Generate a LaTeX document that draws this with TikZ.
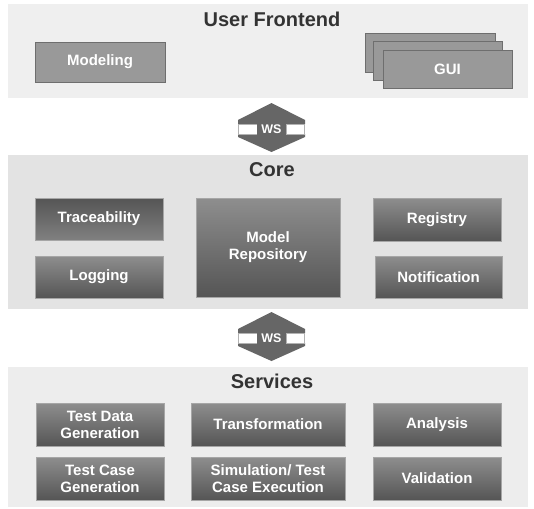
\documentclass[tikz,border=0pt]{standalone}
\usepackage{fontspec}
\setmainfont{Liberation Sans}
\usetikzlibrary{shadows}
\definecolor{panelA}{HTML}{EFEFEF}
\definecolor{panelB}{HTML}{E3E3E3}
\definecolor{panelC}{HTML}{EDEDED}
\definecolor{flatbox}{HTML}{999999}
\definecolor{flatedge}{HTML}{6E6E6E}
\definecolor{gradlight}{HTML}{8E8E8E}
\definecolor{graddark}{HTML}{555555}
\definecolor{titlegray}{HTML}{333333}
\definecolor{arrowgray}{HTML}{666666}
\begin{document}
\begin{tikzpicture}[x=1pt,y=-1pt,
  title/.style={font=\bfseries\fontsize{20}{22}\selectfont, text=titlegray},
  lbl/.style={font=\bfseries\fontsize{15}{17}\selectfont, text=white, align=center, inner sep=0pt},
  flat/.style={lbl, fill=flatbox, draw=flatedge, line width=0.6pt,
    drop shadow={shadow xshift=1.2pt, shadow yshift=-1.5pt, opacity=0.35}},
  gradbox/.style={lbl, draw=gray!70, line width=0.4pt,
    top color=gradlight, bottom color=graddark,
    drop shadow={shadow xshift=1pt, shadow yshift=-1.2pt, opacity=0.3}},
  darkbox/.style={lbl, draw=gray!70, line width=0.4pt,
    top color=graddark, bottom color=gradlight!90!black,
    drop shadow={shadow xshift=1pt, shadow yshift=-1.2pt, opacity=0.3}},
  ws/.style={font=\bfseries\fontsize{12.5}{14}\selectfont, text=white, inner sep=0pt},
  notch/.style={fill=white, draw=gray!60, line width=0.5pt}
]
\useasboundingbox (0,0) rectangle (534,508);
\fill[white] (0,0) rectangle (534,508);

% layer panels
\fill[panelA] (8,4) rectangle (528,98);
\fill[panelB] (8,155) rectangle (528,309);
\fill[panelC] (8,367) rectangle (528,507);

% ---- User Frontend ----
\node[title] (tfront) at (272,19) {User Frontend};
\node[flat, minimum width=130pt, minimum height=40pt] (modeling) at (100,62) {Modeling};
\node[flat, minimum width=130pt, minimum height=39pt] (gui3) at (430,52.5) {};
\node[flat, minimum width=129pt, minimum height=39pt] (gui2) at (437.5,60.5) {};
\node[flat, minimum width=129pt, minimum height=38pt] (gui) at (447.5,69) {GUI};

% ---- upper WS double arrow ----
\fill[arrowgray] (238,124) -- (238,120) -- (271.5,103) -- (305,120) -- (305,124) -- cycle;
\fill[arrowgray] (238,134) -- (238,137) -- (271.5,152) -- (305,137) -- (305,134) -- cycle;
\draw[notch] (238.3,124) rectangle (257,134);
\draw[notch] (286,124) rectangle (304.7,134);
\fill[arrowgray] (257,123.5) rectangle (286,134.5);
\node[ws] (ws1) at (271.5,129) {WS};

% ---- Core ----
\node[title] (tcore) at (272,170) {Core};
\node[darkbox, minimum width=128pt, minimum height=42pt] (trace) at (99,219) {Traceability};
\node[gradbox, minimum width=128pt, minimum height=42pt] (logging) at (99,277) {Logging};
\node[gradbox, minimum width=144pt, minimum height=99pt] (repo) at (268,247.5) {Model\\Repository};
\node[gradbox, minimum width=128pt, minimum height=43pt] (registry) at (437,219.5) {Registry};
\node[gradbox, minimum width=127pt, minimum height=42pt] (notif) at (438.5,277) {Notification};

% ---- lower WS double arrow ----
\fill[arrowgray] (238,333) -- (238,329) -- (271.5,312) -- (305,329) -- (305,333) -- cycle;
\fill[arrowgray] (238,343) -- (238,346) -- (271.5,361) -- (305,346) -- (305,343) -- cycle;
\draw[notch] (238.3,333) rectangle (257,343);
\draw[notch] (286,333) rectangle (304.7,343);
\fill[arrowgray] (257,332.5) rectangle (286,343.5);
\node[ws] (ws2) at (271.5,338) {WS};

% ---- Services ----
\node[title] (tserv) at (272,381) {Services};
\node[gradbox, minimum width=128pt, minimum height=43pt] (tdg) at (100,424.5) {Test Data\\Generation};
\node[gradbox, minimum width=154pt, minimum height=43pt] (trans) at (268,424.5) {Transformation};
\node[gradbox, minimum width=128pt, minimum height=43pt] (analysis) at (437,424.5) {Analysis};
\node[gradbox, minimum width=128pt, minimum height=43pt] (tcg) at (100,478.5) {Test Case\\Generation};
\node[gradbox, minimum width=154pt, minimum height=43pt] (sim) at (268,478.5) {Simulation/ Test\\Case Execution};
\node[gradbox, minimum width=128pt, minimum height=43pt] (valid) at (437,478.5) {Validation};
\end{tikzpicture}
\end{document}
